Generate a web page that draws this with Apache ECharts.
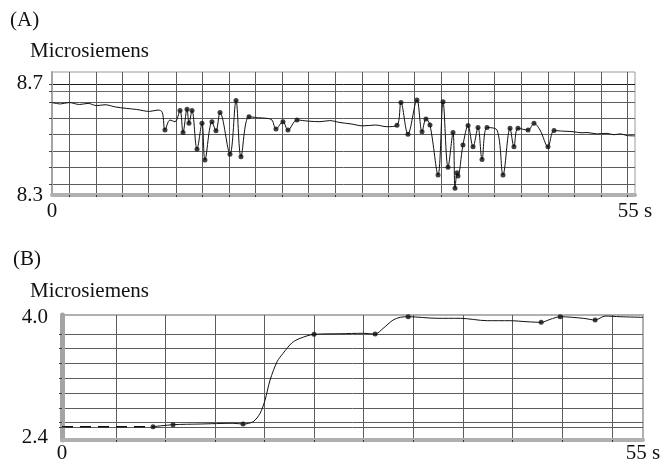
<!DOCTYPE html>
<html>
<head>
<meta charset="utf-8">
<script src="https://cdn.jsdelivr.net/npm/echarts@6/dist/echarts.min.js"></script>
<style>
html, body { margin: 0; padding: 0; background: #fff; }
#chart { width: 665px; height: 464px; }
</style>
</head>
<body>
<div id="chart"></div>
<script>
// (A) conductivity trace, time in s
var timeA = [0, 0.8, 1.6, 2.6, 3.4, 4.2, 5.0, 6.0, 7.0, 8.0, 9.2, 10.0, 10.4, 10.66, 11.13, 11.6,
  12.08, 12.36, 12.74, 12.92, 13.21, 13.68, 14.15, 14.43, 15.09, 15.47, 15.85, 16.79, 17.36, 17.83,
  18.58, 19.5, 20.28, 20.75, 21.13, 21.79, 22.26, 23.11, 24.2, 25.28, 26.2, 27.17, 28.2, 29.34,
  30.5, 31.6, 32.55, 32.92, 33.58, 34.43, 34.91, 35.28, 35.66, 36.42, 36.89, 37.36, 37.83, 38.02,
  38.21, 38.3, 38.77, 39.25, 39.72, 40.19, 40.57, 41.04, 41.98, 42.55, 43.21, 43.58, 43.96, 44.91,
  45.47, 46.04, 46.79, 47.36, 48.2, 49.15, 50.0, 50.47, 51.4, 52.36, 53.0, 53.58, 54.3, 55];
var valueA = [8.633, 8.628, 8.633, 8.626, 8.630, 8.622, 8.625, 8.617, 8.612, 8.608, 8.601, 8.606, 8.598, 8.534, 8.570, 8.564,
  8.604, 8.525, 8.609, 8.558, 8.604, 8.465, 8.558, 8.426, 8.564, 8.531, 8.597, 8.447, 8.640, 8.438,
  8.582, 8.578, 8.576, 8.570, 8.538, 8.564, 8.534, 8.570, 8.566, 8.564, 8.568, 8.561, 8.556, 8.549,
  8.552, 8.546, 8.551, 8.633, 8.519, 8.642, 8.528, 8.574, 8.552, 8.372, 8.636, 8.400, 8.525, 8.324,
  8.380, 8.368, 8.480, 8.550, 8.474, 8.543, 8.428, 8.543, 8.534, 8.372, 8.540, 8.474, 8.540, 8.534,
  8.558, 8.534, 8.474, 8.532, 8.530, 8.528, 8.524, 8.525, 8.520, 8.522, 8.517, 8.520, 8.514, 8.513];
var dotTimesA = [10.66, 12.08, 12.36, 12.74, 12.92, 13.21, 13.68, 14.15, 14.43, 15.09, 15.47, 15.85,
  16.79, 17.36, 17.83, 18.58, 21.13, 21.79, 22.26, 23.11, 32.55, 32.92, 33.58, 34.43, 34.91, 35.28,
  35.66, 36.42, 36.89, 37.36, 37.83, 38.02, 38.21, 38.3, 38.77, 39.25, 39.72, 40.19, 40.57, 41.04,
  42.55, 43.21, 43.58, 43.96, 44.91, 45.47, 46.79, 47.36];
var gridXA = [1.6, 4.15, 6.6, 9.06, 11.7, 14.15, 16.7, 19.15, 21.7, 24.15, 26.7, 29.25, 31.7, 34.15,
  36.7, 39.25, 41.7, 44.25, 46.79, 49.25, 51.79, 54.25];
var gridYA = [8.34, 8.401, 8.459, 8.52, 8.577, 8.635, 8.675, 8.70];
var labelsYA = [8.3, 8.7];

// (B)
var dashTimeB = [0, 8.62];
var dashValueB = [2.537, 2.537];
var timeB = [8.62, 10.51, 13.07, 16.19, 17.14, 18.09, 18.75, 19.22, 19.70, 20.36, 20.93, 21.78, 22.54,
  23.86, 26.33, 28.50, 29.64, 30.40, 31.34, 32.01, 32.77, 35.51, 37.69, 40.25, 42.42, 44.03, 45.36,
  46.21, 47.16, 49.34, 50.47, 51.42, 52.84, 55];
var valueB = [2.537, 2.564, 2.573, 2.583, 2.573, 2.604, 2.716, 2.893, 3.160, 3.404, 3.516, 3.657, 3.716,
  3.769, 3.777, 3.783, 3.773, 3.849, 3.960, 3.996, 4.004, 3.983, 3.983, 3.951, 3.951, 3.937, 3.929,
  3.969, 4.004, 3.983, 3.960, 4.013, 4.004, 3.996];
var dotTimesB = [8.62, 10.51, 17.14, 23.86, 29.64, 32.77, 45.36, 47.16, 50.47];
var gridXB = [5.11, 9.75, 14.49, 19.13, 23.86, 28.50, 33.24, 37.97, 42.61, 47.35, 52.08];
var gridYB = [2.533, 2.6, 2.787, 2.987, 3.187, 3.387, 3.587, 3.773];
var labelsYB = [2.4, 4.0];

var labelsX = [0, 55];

function pairs(xs, ys) {
  return xs.map(function (x, i) { return [x, ys[i]]; });
}
function dots(xs, ys, picks) {
  return picks.map(function (t) { var i = xs.indexOf(t); return [xs[i], ys[i]]; });
}

var serif = '"Liberation Serif", "Times New Roman", serif';
var gridCol = '#5c5c5c';

function xAxisOpt(grid, ticks, margin) {
  return {
    type: 'value', gridIndex: grid, min: 0, max: 55,
    axisLine: { show: true, lineStyle: { color: '#b0b0b0', width: 4 } },
    axisTick: { show: true, customValues: ticks, length: 2, lineStyle: { color: '#333' } },
    axisLabel: {
      customValues: labelsX, margin: margin, fontFamily: serif, fontSize: 21, color: '#111',
      formatter: function (v) { return v === 55 ? '55 s' : String(v); }
    },
    splitLine: { show: true, lineStyle: { color: gridCol, width: 1 } }
  };
}

function yAxisOpt(grid, min, max, ticks, labels, margin, lineW, colors) {
  return {
    type: 'value', gridIndex: grid, min: min, max: max,
    axisLine: { show: true, lineStyle: { color: '#a4a4a4', width: lineW } },
    axisTick: { show: true, customValues: ticks, length: 3, lineStyle: { color: '#444' } },
    axisLabel: {
      customValues: labels, margin: margin, fontFamily: serif, fontSize: 21, color: '#111',
      formatter: function (v) { return v.toFixed(1); }
    },
    splitLine: { show: true, lineStyle: { color: colors, width: 1 } }
  };
}

var chart = echarts.init(document.getElementById('chart'));
chart.setOption({
  animation: false,
  backgroundColor: '#fff',
  graphic: [
    { type: 'text', x: 10, y: 20, style: { text: '(A)', font: '21px ' + serif, fill: '#111', verticalAlign: 'middle' } },
    { type: 'text', x: 30, y: 51, style: { text: 'Microsiemens', font: '21px ' + serif, fill: '#111', verticalAlign: 'middle' } },
    { type: 'text', x: 13, y: 259, style: { text: '(B)', font: '21px ' + serif, fill: '#111', verticalAlign: 'middle' } },
    { type: 'text', x: 30, y: 291, style: { text: 'Microsiemens', font: '21px ' + serif, fill: '#111', verticalAlign: 'middle' } }
  ],
  grid: [
    { left: 52, top: 72, width: 583, height: 123, show: true, borderColor: '#9a9a9a', borderWidth: 1 },
    { left: 62, top: 315, width: 581, height: 125, show: true, borderColor: '#b0b0b0', borderWidth: 2 }
  ],
  xAxis: [
    xAxisOpt(0, gridXA, 6),
    xAxisOpt(1, gridXB, 3)
  ],
  yAxis: [
    yAxisOpt(0, 8.3, 8.743, gridYA, labelsYA, 9, 2,
      [gridCol, gridCol, gridCol, gridCol, gridCol, gridCol, '#6a6a6a', '#1a1a1a']),
    yAxisOpt(1, 2.36, 4.027, gridYB, labelsYB, 14, 5, [gridCol])
  ],
  series: [
    {
      type: 'line', xAxisIndex: 0, yAxisIndex: 0, data: pairs(timeA, valueA),
      showSymbol: false, smooth: 0.35, lineStyle: { color: '#111', width: 1 }, silent: true
    },
    {
      type: 'scatter', xAxisIndex: 0, yAxisIndex: 0, data: dots(timeA, valueA, dotTimesA),
      symbolSize: 5, itemStyle: { color: '#111' }, silent: true
    },
    {
      type: 'line', xAxisIndex: 1, yAxisIndex: 1, data: pairs(dashTimeB, dashValueB),
      showSymbol: false, lineStyle: { color: '#111', width: 1.5, type: [11, 7] }, silent: true
    },
    {
      type: 'line', xAxisIndex: 1, yAxisIndex: 1, data: pairs(timeB, valueB),
      showSymbol: false, smooth: 0.3, lineStyle: { color: '#111', width: 1 }, silent: true
    },
    {
      type: 'scatter', xAxisIndex: 1, yAxisIndex: 1, data: dots(timeB, valueB, dotTimesB),
      symbolSize: 5, itemStyle: { color: '#111' }, silent: true
    }
  ]
});
</script>
</body>
</html>
